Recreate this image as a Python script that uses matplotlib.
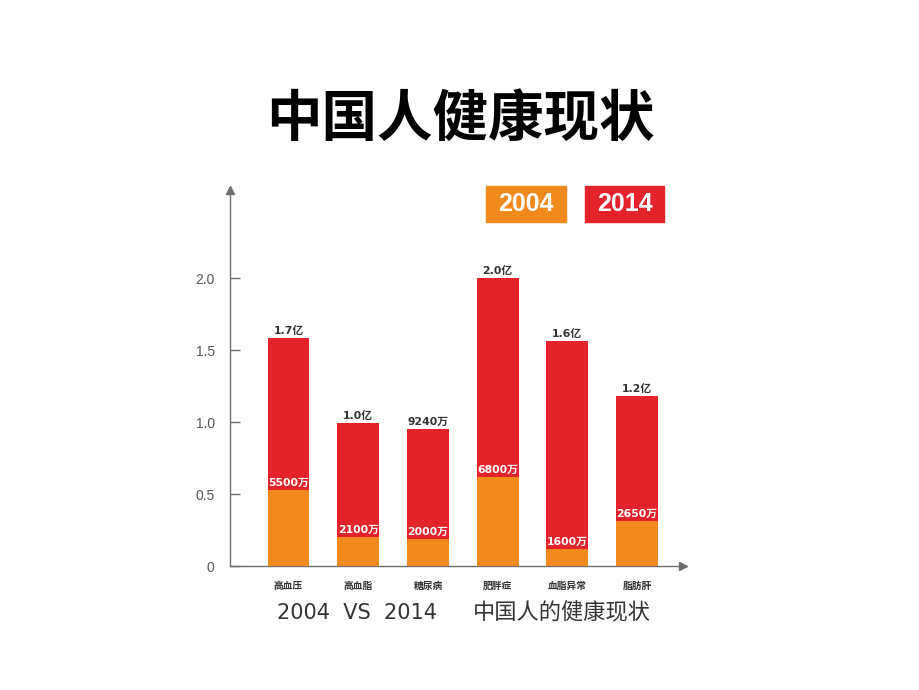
import matplotlib
matplotlib.use("Agg")
import matplotlib.pyplot as plt
import numpy as np

plt.rcParams['font.family'] = ['Noto Sans CJK SC', 'DejaVu Sans']

categories = ["高血压", "高血脂", "糖尿病", "肥胖症", "血脂异常", "脂肪肝"]
val_2004 = [0.53, 0.20, 0.19, 0.62, 0.12, 0.31]      # drawn height (亿)
val_2014 = [1.58, 0.99, 0.95, 2.00, 1.56, 1.18]      # drawn height (亿)
label_2004 = ["5500万", "2100万", "2000万", "6800万", "1600万", "2650万"]
label_2014 = ["1.7亿", "1.0亿", "9240万", "2.0亿", "1.6亿", "1.2亿"]
yticks = [0, 0.5, 1.0, 1.5, 2.0]
ytick_labels = ["0", "0.5", "1.0", "1.5", "2.0"]
legend_labels = ["2004", "2014"]

ORANGE = "#F2891D"
RED = "#E3222A"
AXIS = "#6E6E6E"
LABEL_FONT = ['DejaVu Sans', 'Noto Sans CJK SC']

W, H = 920, 690
fig = plt.figure(figsize=(W / 100, H / 100), dpi=100)

# axes in pixel geometry
x0, x1 = 230, 683
y0, y1 = 566, 190
ax = fig.add_axes([x0 / W, 1 - y0 / H, (x1 - x0) / W, (y0 - y1) / H])
step = 69.7
first = 288.5
ax.set_xlim((x0 - first) / step, (x1 - first) / step)
ax.set_ylim(0, (y0 - y1) / 144)

x = np.arange(len(categories))
bw = 0.6
ax.bar(x, val_2014, width=bw, color=RED, zorder=2)
ax.bar(x, val_2004, width=bw, color=ORANGE, zorder=3)

for xi, v14, v04, l14, l04 in zip(x, val_2014, val_2004, label_2014, label_2004):
    ax.text(xi, v14 + 0.015, l14, ha='center', va='bottom', fontsize=7.8,
            fontweight='bold', color="#333333", zorder=5, family=LABEL_FONT)
    ax.text(xi, v04 + 0.015, l04, ha='center', va='bottom', fontsize=7.8,
            fontweight='bold', color="white", zorder=5, family=LABEL_FONT)

# axes styling
for s in ["top", "right"]:
    ax.spines[s].set_visible(False)
for s in ["left", "bottom"]:
    ax.spines[s].set_color(AXIS)
    ax.spines[s].set_linewidth(1.0)
ax.set_yticks(yticks)
ax.set_yticklabels(ytick_labels, family=['Liberation Sans', 'DejaVu Sans'])
ax.tick_params(axis='y', direction='in', length=7, width=1, colors=AXIS,
               labelcolor="#555555", labelsize=10, pad=11)
ax.set_xticks(x)
ax.set_xticklabels(categories)
ax.tick_params(axis='x', length=0, labelsize=7, labelcolor="#333333", pad=11)
for lab in ax.get_xticklabels():
    lab.set_fontweight('bold')

# arrow heads
ax.plot(0, 1, marker='^', color=AXIS, markersize=6, transform=ax.transAxes,
        clip_on=False, zorder=6)
ax.plot(1, 0, marker='>', color=AXIS, markersize=6, transform=ax.transAxes,
        clip_on=False, zorder=6)

# title
fig.text(460 / W, 1 - 120 / H, "中国人健康现状", ha='center', va='center',
         fontsize=40, fontweight='heavy', color="black")

# legend boxes
for (lx0, lx1), lab, col in zip([(486, 566), (585, 664)], legend_labels, [ORANGE, RED]):
    fig.patches.append(plt.Rectangle((lx0 / W, 1 - 222 / H), (lx1 - lx0) / W, 36 / H,
                                     transform=fig.transFigure, color=col))
    fig.text((lx0 + lx1) / 2 / W, 1 - 204 / H, lab, ha='center', va='center',
             fontsize=18, fontweight='bold', color="white",
             family=['Liberation Sans', 'DejaVu Sans'])

# bottom caption
fig.text(357 / W, 1 - 613 / H, "2004  VS  2014", ha='center', va='center',
         fontsize=15, color="#333333", family=['DejaVu Sans'], fontweight='normal')
fig.text(562 / W, 1 - 613 / H, "中国人的健康现状", ha='center', va='center',
         fontsize=16, color="#333333", fontweight='light')

fig.savefig("out.png", dpi=100, facecolor="white")
